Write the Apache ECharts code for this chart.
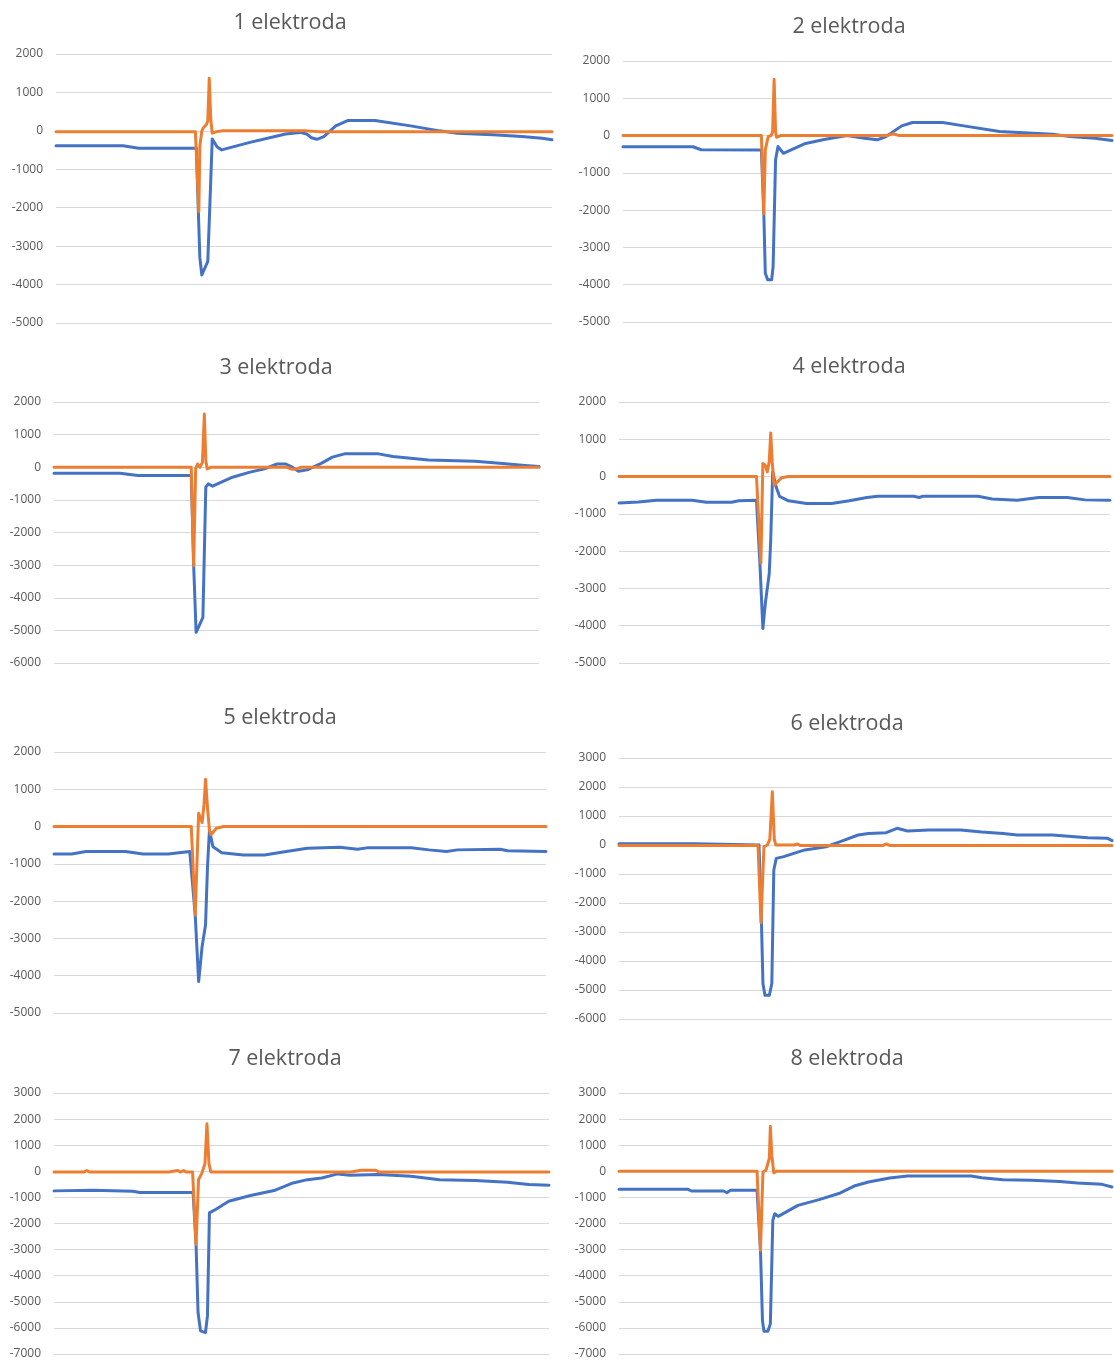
<!DOCTYPE html>
<html>
<head>
<meta charset="utf-8">
<title>elektroda</title>
<script src="https://cdn.jsdelivr.net/npm/echarts@6/dist/echarts.min.js"></script>
<style>
  html, body { margin: 0; padding: 0; background: #ffffff; }
  #chart { width: 1114px; height: 1360px; }
</style>
</head>
<body>
<div id="chart"></div>
<script>
// Panel titles and value ranges of the y axes
const titles = ['1 elektroda', '2 elektroda', '3 elektroda', '4 elektroda',
                '5 elektroda', '6 elektroda', '7 elektroda', '8 elektroda'];
const yMin = [-5000, -5000, -6000, -5000, -5000, -6000, -7000, -7000];
const yMax = [2000, 2000, 2000, 2000, 2000, 3000, 3000, 3000];

// Recorded signals: [sample, value]
const blue1 = [[0,-390],[135,-390],[167,-450],[283,-450],[287,-2100],[290,-3300],[294,-3750],[298,-3700],[306,-3400],[310,-2000],[315,-210],[318,-250],[325,-420],[334,-495],[391,-300],[463,-80],[492,-40],[505,-80],[515,-180],[526,-220],[540,-150],[564,130],[589,270],[643,270],[715,130],[773,0],[809,-60],[881,-100],[939,-150],[980,-190],[1000,-230]];
const orange1 = [[0,-20],[248,-20],[250,20],[252,-20],[281,-20],[288,-2100],[290,-400],[294,0],[297,80],[303,160],[306,250],[309,1370],[312,300],[315,-60],[318,-70],[324,-20],[337,0],[500,0],[530,-20],[1000,-20]];

const blue2 = [[0,-300],[143,-300],[160,-380],[283,-385],[288,-2100],[291,-3690],[296,-3870],[304,-3870],[307,-3510],[312,-650],[317,-295],[328,-475],[371,-220],[414,-100],[458,0],[494,-70],[520,-115],[538,-25],[570,260],[592,350],[654,350],[697,260],[770,110],[878,35],[914,-25],[965,-70],[1000,-135]];
const orange2 = [[0,0],[283,0],[288,-2100],[291,-380],[297,-25],[303,0],[306,100],[309,1510],[312,100],[314,-45],[322,0],[540,0],[552,50],[565,0],[1000,0]];

const blue3 = [[0,-185],[136,-185],[173,-255],[283,-255],[288,-3020],[293,-5060],[298,-4900],[307,-4600],[313,-610],[318,-510],[327,-580],[368,-305],[404,-150],[434,-50],[460,100],[478,100],[489,20],[504,-120],[522,-80],[551,120],[574,310],[599,410],[669,410],[699,330],[772,225],[868,185],[919,120],[971,50],[1000,20]];
const orange3 = [[0,0],[283,0],[288,-3020],[292,-50],[296,100],[301,0],[306,150],[310,1630],[313,200],[316,-50],[324,0],[480,0],[490,-60],[500,-50],[510,0],[1000,0]];

const blue4 = [[0,-706],[40,-680],[76,-635],[149,-635],[178,-690],[229,-690],[244,-650],[280,-635],[287,-2330],[293,-4075],[298,-3400],[306,-2600],[309,-1700],[313,125],[320,-280],[327,-530],[345,-650],[382,-725],[433,-725],[469,-650],[505,-560],[527,-530],[600,-530],[612,-560],[618,-530],[731,-530],[760,-600],[811,-635],[855,-560],[913,-560],[949,-625],[1000,-635]];
const orange4 = [[0,0],[280,0],[284,-50],[289,-2315],[293,350],[298,300],[302,125],[306,400],[309,1170],[312,400],[316,-230],[331,-30],[345,0],[1000,0]];

const blue5 = [[0,-733],[36,-733],[65,-670],[145,-670],[181,-733],[232,-733],[254,-700],[276,-670],[287,-2370],[294,-4155],[301,-3220],[308,-2640],[312,-1070],[316,-90],[323,-540],[341,-700],[385,-760],[428,-760],[472,-670],[515,-580],[581,-555],[617,-610],[639,-565],[726,-565],[762,-625],[798,-670],[820,-625],[907,-610],[922,-650],[1000,-670]];
const orange5 = [[0,0],[279,0],[287,-2370],[294,360],[301,110],[305,600],[308,1270],[312,500],[316,-100],[319,-220],[330,-45],[345,0],[1000,0]];

const blue6 = [[0,40],[154,40],[156,0],[284,0],[289,-2700],[292,-4775],[296,-5180],[305,-5180],[310,-4775],[314,-860],[319,-460],[334,-400],[377,-170],[420,-60],[449,115],[485,345],[506,400],[542,425],[564,575],[585,485],[628,520],[693,520],[736,450],[779,400],[808,345],[879,345],[951,250],[991,230],[1000,150]];
const orange6 = [[0,-20],[282,-20],[288,-2680],[294,-60],[301,0],[306,200],[311,1840],[315,200],[318,0],[355,0],[362,35],[368,-20],[535,-20],[542,35],[550,-20],[1000,-20]];

const blue7 = [[0,-750],[79,-725],[159,-765],[173,-815],[281,-815],[287,-2800],[291,-5410],[296,-6115],[306,-6180],[310,-5540],[314,-1590],[324,-1490],[353,-1150],[397,-930],[447,-725],[483,-445],[512,-320],[541,-255],[573,-100],[598,-150],[656,-125],[721,-190],[779,-320],[851,-355],[916,-420],[959,-510],[1000,-535]];
const orange7 = [[0,-30],[54,-30],[56,30],[60,-30],[66,30],[72,-30],[224,-30],[228,30],[232,-30],[250,30],[255,-30],[262,30],[267,-30],[280,-30],[287,-2800],[292,-320],[299,-60],[305,300],[309,1820],[313,300],[317,-30],[577,-30],[580,40],[600,-30],[620,40],[650,40],[656,-30],[834,-30],[836,30],[838,-30],[1000,-30]];

const blue8 = [[0,-690],[140,-690],[147,-755],[212,-755],[219,-820],[226,-730],[280,-730],[287,-3030],[291,-5715],[294,-6125],[298,-6075],[302,-6125],[307,-5845],[312,-1880],[316,-1625],[323,-1725],[363,-1305],[406,-1085],[449,-830],[477,-565],[506,-410],[549,-255],[585,-180],[714,-180],[736,-245],[779,-320],[836,-345],[894,-395],[930,-450],[980,-500],[1000,-600]];
const orange8 = [[0,0],[280,0],[287,-3030],[292,-25],[298,40],[302,-20],[305,500],[307,1725],[310,600],[314,-60],[319,0],[1000,0]];

const blueData = [blue1, blue2, blue3, blue4, blue5, blue6, blue7, blue8];
const orangeData = [orange1, orange2, orange3, orange4, orange5, orange6, orange7, orange8];

// Panel placement (pixels): plot box and title centre
const boxes = [
  { left: 56,  top: 54,   width: 496, height: 269, tx: 290, ty: 23 },
  { left: 623, top: 61,   width: 489, height: 261, tx: 849, ty: 27 },
  { left: 54,  top: 402,  width: 485, height: 261, tx: 276, ty: 368 },
  { left: 619, top: 402,  width: 491, height: 261, tx: 849, ty: 367 },
  { left: 54,  top: 752,  width: 492, height: 261, tx: 280, ty: 718 },
  { left: 619, top: 758,  width: 493, height: 261, tx: 847, ty: 724 },
  { left: 54,  top: 1093, width: 495, height: 262, tx: 285, ty: 1059 },
  { left: 619, top: 1093, width: 493, height: 261, tx: 847, ty: 1059 }
];

const FONT = '"Open Sans", "Liberation Sans", sans-serif';
const BLUE = '#4472C4';
const ORANGE = '#ED7D31';

const title = [], grid = [], xAxis = [], yAxis = [], series = [];
boxes.forEach((b, i) => {
  title.push({
    text: titles[i],
    left: b.tx,
    top: b.ty,
    textAlign: 'center',
    textVerticalAlign: 'middle',
    padding: 0,
    textStyle: { fontFamily: FONT, fontSize: 21.5, fontWeight: 'normal', color: '#595959' }
  });
  grid.push({ left: b.left, top: b.top, width: b.width, height: b.height, containLabel: false });
  xAxis.push({
    type: 'value', gridIndex: i, min: 0, max: 1000,
    show: false, splitLine: { show: false }
  });
  yAxis.push({
    type: 'value', gridIndex: i, min: yMin[i], max: yMax[i], interval: 1000,
    axisLine: { show: false }, axisTick: { show: false },
    axisLabel: {
      color: '#595959', fontFamily: FONT, fontSize: 12, margin: 13,
      formatter: v => String(v)
    },
    splitLine: { lineStyle: { color: '#d9d9d9', width: 1 } }
  });
  series.push({
    type: 'line', xAxisIndex: i, yAxisIndex: i, data: blueData[i],
    showSymbol: false, symbol: 'none', smooth: false,
    lineStyle: { color: BLUE, width: 3, cap: 'round', join: 'round' },
    z: 2
  });
  series.push({
    type: 'line', xAxisIndex: i, yAxisIndex: i, data: orangeData[i],
    showSymbol: false, symbol: 'none', smooth: false,
    lineStyle: { color: ORANGE, width: 3, cap: 'round', join: 'round' },
    z: 3
  });
});

const chart = echarts.init(document.getElementById('chart'), null, { renderer: 'canvas' });
chart.setOption({
  backgroundColor: '#ffffff',
  animation: false,
  title, grid, xAxis, yAxis, series
});
</script>
</body>
</html>
